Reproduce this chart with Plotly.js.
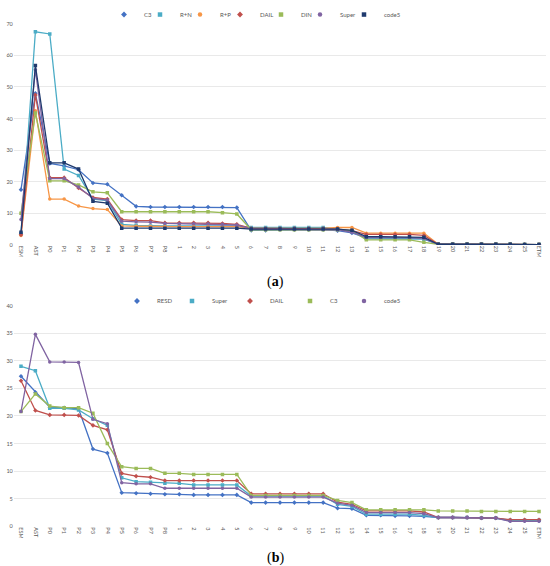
<!DOCTYPE html>
<html>
<head>
<meta charset="utf-8">
<script src="https://cdn.plot.ly/plotly-3.0.1.min.js"></script>
<style>html,body{margin:0;padding:0;background:#fff}#chart{width:550px;height:566px}</style>
</head>
<body>
<div id="chart"></div>
<script>
var categories = ["ESM","AST","P0","P1","P2","P3","P4","P5","P6","P7","P8","1","2","3","4","5","6","7","8","9","10","11","12","13","14","15","16","17","18","19","20","21","22","23","24","25","ETM"];

// Panel (a)
var a_C3    = [17.5,48.0,25.8,25.0,23.8,19.6,19.2,15.7,12.2,12.0,12.0,12.0,12.0,12.0,12.0,11.8,4.6,4.6,4.8,4.8,4.8,4.8,4.5,3.8,2.2,2.2,2.2,2.2,2.0,0.2,0.2,0.2,0.2,0.2,0.2,0.1,0.1];
var a_RN    = [3.5,67.5,66.8,24.0,22.0,14.5,14.0,6.5,6.2,6.0,6.0,6.0,6.0,6.0,6.0,6.0,5.5,5.5,5.5,5.5,5.5,5.5,5.0,4.2,2.0,2.0,2.0,2.0,1.8,0.2,0.2,0.2,0.2,0.2,0.2,0.1,0.1];
var a_RP    = [3.0,42.5,14.5,14.5,12.3,11.5,11.2,6.0,5.9,5.8,5.8,5.8,5.8,5.8,5.8,5.8,5.2,5.2,5.2,5.2,5.2,5.2,5.5,5.5,3.7,3.7,3.7,3.7,3.7,0.2,0.2,0.2,0.2,0.2,0.2,0.1,0.1];
var a_DAIL  = [3.2,47.5,21.3,21.3,18.0,15.0,14.5,8.0,7.7,7.7,7.0,7.0,7.0,7.0,6.8,6.5,5.2,5.2,5.2,5.2,5.2,5.2,5.0,4.5,3.3,3.3,3.3,3.3,3.0,0.2,0.2,0.2,0.2,0.2,0.2,0.1,0.1];
var a_DIN   = [10.0,41.8,20.3,20.3,19.0,16.8,16.5,10.5,10.5,10.5,10.5,10.5,10.5,10.5,10.2,9.8,4.8,4.8,4.8,4.8,4.8,4.8,4.8,4.5,1.6,1.6,1.6,1.6,0.8,0.2,0.2,0.2,0.2,0.2,0.2,0.1,0.1];
var a_Super = [8.0,55.5,21.0,21.0,18.3,14.7,14.2,7.5,7.3,7.2,6.8,6.7,6.7,6.7,6.5,6.3,5.0,5.0,5.0,5.0,5.0,5.0,4.8,4.0,2.3,2.3,2.3,2.3,2.0,0.2,0.2,0.2,0.2,0.2,0.2,0.1,0.1];
var a_code5 = [4.0,56.8,26.0,26.0,24.0,13.8,13.2,5.3,5.3,5.3,5.3,5.3,5.3,5.3,5.3,5.3,5.0,5.0,5.0,5.0,5.0,5.0,5.0,4.6,2.6,2.6,2.6,2.6,2.4,0.2,0.2,0.2,0.2,0.2,0.2,0.1,0.1];

// Panel (b)
var b_RESD  = [27.2,24.3,21.6,21.5,21.3,14.0,13.3,6.1,6.0,5.9,5.8,5.8,5.7,5.7,5.7,5.7,4.3,4.3,4.3,4.3,4.3,4.3,3.3,3.2,2.0,2.0,1.9,1.9,1.8,1.6,1.6,1.6,1.5,1.5,1.0,1.0,1.0];
var b_Super = [29.0,28.2,21.4,21.4,21.1,19.5,18.3,8.8,8.1,8.0,7.8,7.8,7.5,7.5,7.5,7.5,5.5,5.5,5.5,5.5,5.5,5.5,4.0,3.6,2.2,2.2,2.2,2.2,2.0,1.6,1.6,1.6,1.5,1.5,1.1,1.1,1.1];
var b_DAIL  = [26.4,21.0,20.2,20.2,20.1,18.3,17.5,9.6,9.1,8.9,8.3,8.3,8.3,8.3,8.3,8.3,5.9,5.9,5.9,5.9,5.9,5.9,4.4,4.0,2.8,2.8,2.8,2.8,2.6,1.6,1.6,1.6,1.5,1.5,1.2,1.2,1.2];
var b_C3    = [20.8,24.0,21.8,21.5,21.5,20.5,15.0,10.8,10.5,10.5,9.6,9.6,9.4,9.4,9.4,9.4,5.6,5.6,5.6,5.6,5.6,5.6,4.7,4.3,3.0,3.0,3.0,3.0,3.0,2.8,2.8,2.8,2.7,2.7,2.7,2.7,2.7];
var b_code5 = [20.8,34.8,29.8,29.8,29.7,19.4,18.6,7.9,7.7,7.7,6.9,6.9,6.9,6.9,6.9,6.9,5.3,5.3,5.3,5.3,5.3,5.3,4.2,3.8,2.5,2.5,2.5,2.5,2.3,1.6,1.6,1.6,1.5,1.5,0.9,0.9,0.9];

var seriesA = [
  {name:"C3", y:a_C3, color:"#4472C4", sym:"diamond"},
  {name:"R+N", y:a_RN, color:"#4BACC6", sym:"square"},
  {name:"R+P", y:a_RP, color:"#F79646", sym:"circle"},
  {name:"DAIL", y:a_DAIL, color:"#C0504D", sym:"diamond"},
  {name:"DIN", y:a_DIN, color:"#9BBB59", sym:"square"},
  {name:"Super", y:a_Super, color:"#8064A2", sym:"circle"},
  {name:"code5", y:a_code5, color:"#1F3A6E", sym:"square"}
];
var seriesB = [
  {name:"RESD", y:b_RESD, color:"#4472C4", sym:"diamond"},
  {name:"Super", y:b_Super, color:"#4BACC6", sym:"square"},
  {name:"DAIL", y:b_DAIL, color:"#C0504D", sym:"diamond"},
  {name:"C3", y:b_C3, color:"#9BBB59", sym:"square"},
  {name:"code5", y:b_code5, color:"#8064A2", sym:"circle"}
];

// legend entry placement (pixels from left) and row top (pixels from top)
var legendXA = [104,140,180,220,261,300,344], legendTopA = -5;
var legendXB = [117,172,230,290,344], legendTopB = 284;

var traces = [];
var legends = {};
var legendCount = 0;
function addSeries(list, xa, ya, xs, top) {
  list.forEach(function(s){
    traces.push({type:"scatter", mode:"lines+markers", x:categories, y:s.y, name:s.name,
      xaxis:xa, yaxis:ya, showlegend:false,
      line:{color:s.color, width:1.3}, marker:{color:s.color, size:3.5, symbol:s.sym}});
  });
  list.forEach(function(s, i){
    legendCount++;
    var key = legendCount === 1 ? "legend" : "legend" + legendCount;
    legends[key] = {orientation:"h", x:xs[i]/550, y:1 - top/566, xanchor:"left", yanchor:"top",
      font:{size:6, color:"#595959"}, itemwidth:30, bgcolor:"rgba(0,0,0,0)"};
    traces.push({type:"scatter", mode:"markers", x:[null], y:[null], name:s.name,
      xaxis:xa, yaxis:ya, legend:key, showlegend:true, hoverinfo:"skip",
      marker:{color:s.color, size:4.5, symbol:s.sym}});
  });
}
addSeries(seriesA, "x", "y", legendXA, legendTopA);
addSeries(seriesB, "x2", "y2", legendXB, legendTopB);

var tickFont = {family:"Lato, 'Open Sans', sans-serif", size:5.5, color:"#595959"};
var xBase = {type:"category", range:[-0.5,36.5], domain:[0.0251,0.9931], tickangle:90,
  tickfont:tickFont, showgrid:false, zeroline:false, showline:false, ticks:"", ticklen:0};
var yBase = {tickfont:tickFont, gridcolor:"#E3E3E3", gridwidth:0.8, zeroline:false,
  showline:false, ticks:"", tickcolor:"#fff", ticklen:4};

var layout = {
  width:550, height:566,
  margin:{l:0, r:0, t:0, b:0},
  paper_bgcolor:"#ffffff", plot_bgcolor:"#ffffff",
  font:{family:"Lato, 'Open Sans', sans-serif", color:"#595959"},
  xaxis: Object.assign({}, xBase, {anchor:"y"}),
  yaxis: Object.assign({}, yBase, {domain:[0.5724,0.9664], range:[0,70], dtick:10, anchor:"x"}),
  xaxis2: Object.assign({}, xBase, {anchor:"y2"}),
  yaxis2: Object.assign({}, yBase, {domain:[0.0707,0.4641], range:[0,40], dtick:5, anchor:"x2"}),
  annotations:[
    {text:"(<b>a</b>)", xref:"paper", yref:"paper", x:0.5, y:1-279/566, xanchor:"center", yanchor:"middle",
     showarrow:false, font:{family:"'Liberation Serif', 'DejaVu Serif', serif", size:14, color:"#000"}},
    {text:"(<b>b</b>)", xref:"paper", yref:"paper", x:0.5, y:1-558/566, xanchor:"center", yanchor:"middle",
     showarrow:false, font:{family:"'Liberation Serif', 'DejaVu Serif', serif", size:14, color:"#000"}}
  ],
  showlegend:true
};
Object.keys(legends).forEach(function(k){ layout[k] = legends[k]; });

Plotly.newPlot("chart", traces, layout, {staticPlot:true, displayModeBar:false});
</script>
</body>
</html>
